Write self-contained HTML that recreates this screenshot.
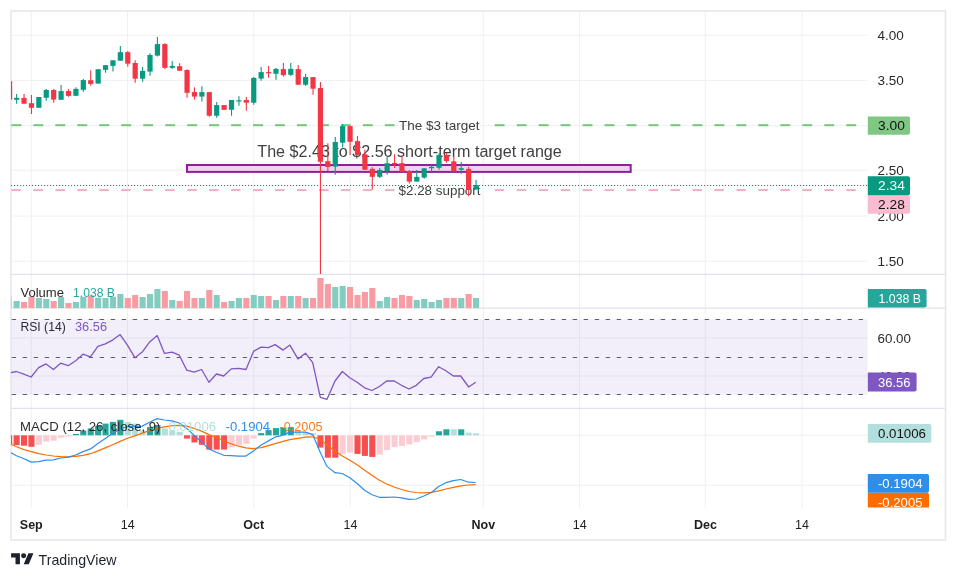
<!DOCTYPE html><html><head><meta charset="utf-8"><title>TradingView chart</title>
<style>html,body{margin:0;padding:0;background:#fff}body{width:957px;height:579px;overflow:hidden}svg{display:block;will-change:transform}text{font-family:"Liberation Sans",Arial,sans-serif}</style></head><body>
<svg width="957" height="579" viewBox="0 0 957 579">
<rect width="957" height="579" fill="#fff"/>
<rect x="11" y="319.3" width="856.5" height="75.7" fill="#f2eefa"/>
<g stroke="#eff0f3" stroke-width="1">
<line x1="31.3" y1="11" x2="31.3" y2="507.5"/>
<line x1="127.5" y1="11" x2="127.5" y2="507.5"/>
<line x1="253.7" y1="11" x2="253.7" y2="507.5"/>
<line x1="350.3" y1="11" x2="350.3" y2="507.5"/>
<line x1="483.3" y1="11" x2="483.3" y2="507.5"/>
<line x1="579.5" y1="11" x2="579.5" y2="507.5"/>
<line x1="705.3" y1="11" x2="705.3" y2="507.5"/>
<line x1="802" y1="11" x2="802" y2="507.5"/>
<line x1="11" y1="35.3" x2="867.5" y2="35.3"/>
<line x1="11" y1="80.4" x2="867.5" y2="80.4"/>
<line x1="11" y1="125.6" x2="867.5" y2="125.6"/>
<line x1="11" y1="170.3" x2="867.5" y2="170.3"/>
<line x1="11" y1="216" x2="867.5" y2="216"/>
<line x1="11" y1="261.3" x2="867.5" y2="261.3"/>
<line x1="11" y1="338" x2="867.5" y2="338"/>
<line x1="11" y1="376" x2="867.5" y2="376"/>
<line x1="11" y1="435.3" x2="867.5" y2="435.3"/>
<line x1="11" y1="485.3" x2="867.5" y2="485.3"/>
</g>
<g stroke="#e0e3eb" stroke-width="1.2">
<line x1="11" y1="274.3" x2="945.5" y2="274.3"/>
<line x1="11" y1="308.2" x2="945.5" y2="308.2"/>
<line x1="11" y1="408.3" x2="945.5" y2="408.3"/>
</g>
<rect x="11" y="11" width="934.5" height="529" fill="none" stroke="#e4e6ea" stroke-width="1.5"/>
<rect x="11.4" y="124.2" width="9.9" height="2" fill="#78c47c"/>
<rect x="33.4" y="124.2" width="9.9" height="2" fill="#78c47c"/>
<rect x="55.3" y="124.2" width="9.9" height="2" fill="#78c47c"/>
<rect x="77.3" y="124.2" width="9.9" height="2" fill="#78c47c"/>
<rect x="99.3" y="124.2" width="9.9" height="2" fill="#78c47c"/>
<rect x="121.2" y="124.2" width="9.9" height="2" fill="#78c47c"/>
<rect x="143.2" y="124.2" width="9.9" height="2" fill="#78c47c"/>
<rect x="165.2" y="124.2" width="9.9" height="2" fill="#78c47c"/>
<rect x="187.2" y="124.2" width="9.9" height="2" fill="#78c47c"/>
<rect x="209.1" y="124.2" width="9.9" height="2" fill="#78c47c"/>
<rect x="231.1" y="124.2" width="9.9" height="2" fill="#78c47c"/>
<rect x="253.1" y="124.2" width="9.9" height="2" fill="#78c47c"/>
<rect x="275.0" y="124.2" width="9.9" height="2" fill="#78c47c"/>
<rect x="297.0" y="124.2" width="9.9" height="2" fill="#78c47c"/>
<rect x="319.0" y="124.2" width="9.9" height="2" fill="#78c47c"/>
<rect x="340.9" y="124.2" width="9.9" height="2" fill="#78c47c"/>
<rect x="362.9" y="124.2" width="9.9" height="2" fill="#78c47c"/>
<rect x="384.9" y="124.2" width="9.6" height="2" fill="#78c47c"/>
<rect x="494.7" y="124.2" width="9.9" height="2" fill="#78c47c"/>
<rect x="516.7" y="124.2" width="9.9" height="2" fill="#78c47c"/>
<rect x="538.7" y="124.2" width="9.9" height="2" fill="#78c47c"/>
<rect x="560.6" y="124.2" width="9.9" height="2" fill="#78c47c"/>
<rect x="582.6" y="124.2" width="9.9" height="2" fill="#78c47c"/>
<rect x="604.6" y="124.2" width="9.9" height="2" fill="#78c47c"/>
<rect x="626.6" y="124.2" width="9.9" height="2" fill="#78c47c"/>
<rect x="648.5" y="124.2" width="9.9" height="2" fill="#78c47c"/>
<rect x="670.5" y="124.2" width="9.9" height="2" fill="#78c47c"/>
<rect x="692.5" y="124.2" width="9.9" height="2" fill="#78c47c"/>
<rect x="714.4" y="124.2" width="9.9" height="2" fill="#78c47c"/>
<rect x="736.4" y="124.2" width="9.9" height="2" fill="#78c47c"/>
<rect x="758.4" y="124.2" width="9.9" height="2" fill="#78c47c"/>
<rect x="780.3" y="124.2" width="9.9" height="2" fill="#78c47c"/>
<rect x="802.3" y="124.2" width="9.9" height="2" fill="#78c47c"/>
<rect x="824.3" y="124.2" width="9.9" height="2" fill="#78c47c"/>
<rect x="846.3" y="124.2" width="9.9" height="2" fill="#78c47c"/>
<rect x="11.4" y="189.1" width="9.5" height="2" fill="#f3adc2"/>
<rect x="33.4" y="189.1" width="9.5" height="2" fill="#f3adc2"/>
<rect x="55.3" y="189.1" width="9.5" height="2" fill="#f3adc2"/>
<rect x="77.3" y="189.1" width="9.5" height="2" fill="#f3adc2"/>
<rect x="99.3" y="189.1" width="9.5" height="2" fill="#f3adc2"/>
<rect x="121.2" y="189.1" width="9.5" height="2" fill="#f3adc2"/>
<rect x="143.2" y="189.1" width="9.5" height="2" fill="#f3adc2"/>
<rect x="165.2" y="189.1" width="9.5" height="2" fill="#f3adc2"/>
<rect x="187.2" y="189.1" width="9.5" height="2" fill="#f3adc2"/>
<rect x="209.1" y="189.1" width="9.5" height="2" fill="#f3adc2"/>
<rect x="231.1" y="189.1" width="9.5" height="2" fill="#f3adc2"/>
<rect x="253.1" y="189.1" width="9.5" height="2" fill="#f3adc2"/>
<rect x="275.0" y="189.1" width="9.5" height="2" fill="#f3adc2"/>
<rect x="297.0" y="189.1" width="9.5" height="2" fill="#f3adc2"/>
<rect x="319.0" y="189.1" width="9.5" height="2" fill="#f3adc2"/>
<rect x="340.9" y="189.1" width="9.5" height="2" fill="#f3adc2"/>
<rect x="362.9" y="189.1" width="9.5" height="2" fill="#f3adc2"/>
<rect x="384.9" y="189.1" width="9.5" height="2" fill="#f3adc2"/>
<rect x="494.7" y="189.1" width="9.5" height="2" fill="#f3adc2"/>
<rect x="516.7" y="189.1" width="9.5" height="2" fill="#f3adc2"/>
<rect x="538.7" y="189.1" width="9.5" height="2" fill="#f3adc2"/>
<rect x="560.6" y="189.1" width="9.5" height="2" fill="#f3adc2"/>
<rect x="582.6" y="189.1" width="9.5" height="2" fill="#f3adc2"/>
<rect x="604.6" y="189.1" width="9.5" height="2" fill="#f3adc2"/>
<rect x="626.6" y="189.1" width="9.5" height="2" fill="#f3adc2"/>
<rect x="648.5" y="189.1" width="9.5" height="2" fill="#f3adc2"/>
<rect x="670.5" y="189.1" width="9.5" height="2" fill="#f3adc2"/>
<rect x="692.5" y="189.1" width="9.5" height="2" fill="#f3adc2"/>
<rect x="714.4" y="189.1" width="9.5" height="2" fill="#f3adc2"/>
<rect x="736.4" y="189.1" width="9.5" height="2" fill="#f3adc2"/>
<rect x="758.4" y="189.1" width="9.5" height="2" fill="#f3adc2"/>
<rect x="780.3" y="189.1" width="9.5" height="2" fill="#f3adc2"/>
<rect x="802.3" y="189.1" width="9.5" height="2" fill="#f3adc2"/>
<rect x="824.3" y="189.1" width="9.5" height="2" fill="#f3adc2"/>
<rect x="846.3" y="189.1" width="9.5" height="2" fill="#f3adc2"/>
<rect x="187" y="165" width="443.7" height="6.9" fill="#f3d1f4" stroke="#8e209c" stroke-width="2"/>
<g fill="#404040">
<text x="399" y="130.2" font-size="13" textLength="80.5" lengthAdjust="spacingAndGlyphs">The $3 target</text>
<text x="398.5" y="194.6" font-size="13" textLength="82" lengthAdjust="spacingAndGlyphs">$2.28 support</text>
<text x="257.3" y="156.8" font-size="16" textLength="304.5" lengthAdjust="spacingAndGlyphs">The $2.43 to $2.56 short-term target range</text>
</g>
<line x1="11" y1="185.5" x2="867.5" y2="185.5" stroke="#0b8a73" stroke-width="1.2" stroke-dasharray="1.1 1.9"/>
<path d="M11 338H867.5M11 376H867.5M31.3 320V394M127.5 320V394M253.7 320V394M350.3 320V394M483.3 320V394M579.5 320V394M705.3 320V394M802 320V394" stroke="#e5e2f0" stroke-width="1"/>
<g id="candles">
<rect x="11" y="81.2" width="1.2" height="18.4" fill="#f23645"/>
<path d="M16.63 94.1V103.7" stroke="#089981" stroke-width="1.1"/><rect x="14.03" y="97.8" width="5.2" height="2.0" fill="#089981"/>
<path d="M24.04 94.1V103.7" stroke="#f23645" stroke-width="1.1"/><rect x="21.44" y="97.9" width="5.2" height="5.8" fill="#f23645"/>
<path d="M31.45 95.0V113.9" stroke="#f23645" stroke-width="1.1"/><rect x="28.85" y="103.2" width="5.2" height="4.6" fill="#f23645"/>
<path d="M38.86 97.0V107.8" stroke="#089981" stroke-width="1.1"/><rect x="36.26" y="97.0" width="5.2" height="10.8" fill="#089981"/>
<path d="M46.27 88.9V100.7" stroke="#089981" stroke-width="1.1"/><rect x="43.67" y="90.0" width="5.2" height="7.8" fill="#089981"/>
<path d="M53.68 88.9V102.7" stroke="#f23645" stroke-width="1.1"/><rect x="51.08" y="90.0" width="5.2" height="9.6" fill="#f23645"/>
<path d="M61.09 85.0V99.8" stroke="#089981" stroke-width="1.1"/><rect x="58.49" y="91.1" width="5.2" height="8.7" fill="#089981"/>
<path d="M68.50 89.1V96.8" stroke="#f23645" stroke-width="1.1"/><rect x="65.90" y="91.0" width="5.2" height="4.9" fill="#f23645"/>
<path d="M75.91 87.3V95.8" stroke="#089981" stroke-width="1.1"/><rect x="73.31" y="88.9" width="5.2" height="6.9" fill="#089981"/>
<path d="M83.32 79.1V91.7" stroke="#089981" stroke-width="1.1"/><rect x="80.72" y="80.1" width="5.2" height="9.7" fill="#089981"/>
<path d="M90.73 70.2V85.7" stroke="#f23645" stroke-width="1.1"/><rect x="88.13" y="80.2" width="5.2" height="3.7" fill="#f23645"/>
<path d="M98.14 69.2V83.6" stroke="#089981" stroke-width="1.1"/><rect x="95.54" y="69.2" width="5.2" height="14.4" fill="#089981"/>
<path d="M105.55 65.1V72.7" stroke="#089981" stroke-width="1.1"/><rect x="102.95" y="65.2" width="5.2" height="4.6" fill="#089981"/>
<path d="M112.96 60.0V71.6" stroke="#089981" stroke-width="1.1"/><rect x="110.36" y="60.3" width="5.2" height="5.6" fill="#089981"/>
<path d="M120.37 46.1V60.7" stroke="#089981" stroke-width="1.1"/><rect x="117.77" y="52.2" width="5.2" height="8.5" fill="#089981"/>
<path d="M127.78 51.1V66.8" stroke="#f23645" stroke-width="1.1"/><rect x="125.18" y="52.2" width="5.2" height="11.5" fill="#f23645"/>
<path d="M135.19 60.3V82.8" stroke="#f23645" stroke-width="1.1"/><rect x="132.59" y="63.0" width="5.2" height="15.7" fill="#f23645"/>
<path d="M142.60 67.1V81.8" stroke="#089981" stroke-width="1.1"/><rect x="140.00" y="70.9" width="5.2" height="7.8" fill="#089981"/>
<path d="M150.01 53.2V75.7" stroke="#089981" stroke-width="1.1"/><rect x="147.41" y="55.0" width="5.2" height="16.6" fill="#089981"/>
<path d="M157.42 37.1V56.6" stroke="#089981" stroke-width="1.1"/><rect x="154.82" y="44.1" width="5.2" height="11.5" fill="#089981"/>
<path d="M164.83 43.2V68.9" stroke="#f23645" stroke-width="1.1"/><rect x="162.23" y="44.1" width="5.2" height="23.7" fill="#f23645"/>
<path d="M172.24 61.1V68.9" stroke="#089981" stroke-width="1.1"/><rect x="169.64" y="65.9" width="5.2" height="1.9" fill="#089981"/>
<path d="M179.65 63.2V70.7" stroke="#f23645" stroke-width="1.1"/><rect x="177.05" y="66.2" width="5.2" height="4.5" fill="#f23645"/>
<path d="M187.06 69.2V97.8" stroke="#f23645" stroke-width="1.1"/><rect x="184.46" y="70.0" width="5.2" height="22.8" fill="#f23645"/>
<path d="M194.47 87.3V99.6" stroke="#f23645" stroke-width="1.1"/><rect x="191.87" y="92.1" width="5.2" height="4.5" fill="#f23645"/>
<path d="M201.88 86.2V101.6" stroke="#089981" stroke-width="1.1"/><rect x="199.28" y="92.1" width="5.2" height="4.5" fill="#089981"/>
<path d="M209.29 92.1V116.8" stroke="#f23645" stroke-width="1.1"/><rect x="206.69" y="92.1" width="5.2" height="23.6" fill="#f23645"/>
<path d="M216.70 102.1V117.7" stroke="#089981" stroke-width="1.1"/><rect x="214.10" y="105.1" width="5.2" height="10.6" fill="#089981"/>
<path d="M224.11 105.1V109.8" stroke="#f23645" stroke-width="1.1"/><rect x="221.51" y="105.1" width="5.2" height="4.7" fill="#f23645"/>
<path d="M231.52 100.0V115.7" stroke="#089981" stroke-width="1.1"/><rect x="228.92" y="100.0" width="5.2" height="9.8" fill="#089981"/>
<path d="M238.93 96.2V105.7" stroke="#089981" stroke-width="1.1"/><rect x="236.33" y="100.3" width="5.2" height="1.2" fill="#089981"/>
<path d="M246.34 97.0V110.7" stroke="#f23645" stroke-width="1.1"/><rect x="243.74" y="100.0" width="5.2" height="2.7" fill="#f23645"/>
<path d="M253.75 77.1V104.8" stroke="#089981" stroke-width="1.1"/><rect x="251.15" y="77.9" width="5.2" height="24.8" fill="#089981"/>
<path d="M261.16 67.0V80.7" stroke="#089981" stroke-width="1.1"/><rect x="258.56" y="72.1" width="5.2" height="6.5" fill="#089981"/>
<path d="M268.57 65.9V77.8" stroke="#f23645" stroke-width="1.1"/><rect x="265.97" y="72.1" width="5.2" height="1.2" fill="#f23645"/>
<path d="M275.98 68.0V79.8" stroke="#089981" stroke-width="1.1"/><rect x="273.38" y="68.9" width="5.2" height="4.9" fill="#089981"/>
<path d="M283.39 62.9V76.8" stroke="#f23645" stroke-width="1.1"/><rect x="280.79" y="69.1" width="5.2" height="6.0" fill="#f23645"/>
<path d="M290.80 62.9V75.9" stroke="#089981" stroke-width="1.1"/><rect x="288.20" y="68.9" width="5.2" height="5.9" fill="#089981"/>
<path d="M298.21 65.0V84.7" stroke="#f23645" stroke-width="1.1"/><rect x="295.61" y="69.1" width="5.2" height="15.6" fill="#f23645"/>
<path d="M305.62 74.1V86.0" stroke="#089981" stroke-width="1.1"/><rect x="303.02" y="77.1" width="5.2" height="7.6" fill="#089981"/>
<path d="M313.03 77.1V94.8" stroke="#f23645" stroke-width="1.1"/><rect x="310.43" y="77.1" width="5.2" height="11.6" fill="#f23645"/>
<path d="M320.44 82.0V274.0" stroke="#f23645" stroke-width="1.1"/><rect x="317.84" y="88.0" width="5.2" height="73.8" fill="#f23645"/>
<path d="M327.85 143.2V171.0" stroke="#f23645" stroke-width="1.1"/><rect x="325.25" y="161.2" width="5.2" height="5.8" fill="#f23645"/>
<path d="M335.26 137.0V174.8" stroke="#089981" stroke-width="1.1"/><rect x="332.66" y="142.0" width="5.2" height="24.6" fill="#089981"/>
<path d="M342.67 124.0V147.5" stroke="#089981" stroke-width="1.1"/><rect x="340.07" y="126.1" width="5.2" height="16.6" fill="#089981"/>
<path d="M350.08 126.1V155.0" stroke="#f23645" stroke-width="1.1"/><rect x="347.48" y="126.1" width="5.2" height="15.7" fill="#f23645"/>
<path d="M357.49 136.2V155.0" stroke="#f23645" stroke-width="1.1"/><rect x="354.89" y="141.1" width="5.2" height="13.9" fill="#f23645"/>
<path d="M364.90 149.6V169.8" stroke="#f23645" stroke-width="1.1"/><rect x="362.30" y="154.3" width="5.2" height="15.5" fill="#f23645"/>
<path d="M372.31 167.3V189.6" stroke="#f23645" stroke-width="1.1"/><rect x="369.71" y="168.9" width="5.2" height="7.9" fill="#f23645"/>
<path d="M379.72 168.0V178.0" stroke="#089981" stroke-width="1.1"/><rect x="377.12" y="170.0" width="5.2" height="6.8" fill="#089981"/>
<path d="M387.13 157.0V174.8" stroke="#089981" stroke-width="1.1"/><rect x="384.53" y="163.2" width="5.2" height="7.8" fill="#089981"/>
<path d="M394.54 154.3V168.0" stroke="#f23645" stroke-width="1.1"/><rect x="391.94" y="163.0" width="5.2" height="1.2" fill="#f23645"/>
<path d="M401.95 155.0V171.8" stroke="#f23645" stroke-width="1.1"/><rect x="399.35" y="163.2" width="5.2" height="8.5" fill="#f23645"/>
<path d="M409.36 170.0V183.5" stroke="#f23645" stroke-width="1.1"/><rect x="406.76" y="171.0" width="5.2" height="10.6" fill="#f23645"/>
<path d="M416.77 170.0V181.6" stroke="#089981" stroke-width="1.1"/><rect x="414.17" y="176.9" width="5.2" height="4.7" fill="#089981"/>
<path d="M424.18 168.0V178.7" stroke="#089981" stroke-width="1.1"/><rect x="421.58" y="168.4" width="5.2" height="9.2" fill="#089981"/>
<path d="M431.59 165.0V172.0" stroke="#089981" stroke-width="1.1"/><rect x="428.99" y="166.8" width="5.2" height="1.4" fill="#089981"/>
<path d="M439.00 153.2V169.8" stroke="#089981" stroke-width="1.1"/><rect x="436.40" y="155.0" width="5.2" height="12.8" fill="#089981"/>
<path d="M446.41 153.0V162.7" stroke="#f23645" stroke-width="1.1"/><rect x="443.81" y="155.0" width="5.2" height="6.0" fill="#f23645"/>
<path d="M453.82 156.2V172.0" stroke="#f23645" stroke-width="1.1"/><rect x="451.22" y="161.4" width="5.2" height="9.9" fill="#f23645"/>
<path d="M461.23 162.0V174.0" stroke="#089981" stroke-width="1.1"/><rect x="458.63" y="168.2" width="5.2" height="1.6" fill="#089981"/>
<path d="M468.64 166.8V196.2" stroke="#f23645" stroke-width="1.1"/><rect x="466.04" y="168.9" width="5.2" height="21.1" fill="#f23645"/>
<path d="M476.05 179.8V190.0" stroke="#089981" stroke-width="1.1"/><rect x="473.45" y="185.0" width="5.2" height="4.3" fill="#089981"/>
</g>
<g id="vol">
<rect x="11" y="296" width="1" height="12" fill="#fac0c5"/>
<rect x="13.58" y="301.0" width="6.1" height="7.0" fill="#84ccc0"/>
<rect x="20.99" y="302.0" width="6.1" height="6.0" fill="#f89ba3"/>
<rect x="28.40" y="296.8" width="6.1" height="11.2" fill="#f89ba3"/>
<rect x="35.81" y="298.0" width="6.1" height="10.0" fill="#84ccc0"/>
<rect x="43.22" y="299.0" width="6.1" height="9.0" fill="#84ccc0"/>
<rect x="50.63" y="301.0" width="6.1" height="7.0" fill="#f89ba3"/>
<rect x="58.04" y="297.0" width="6.1" height="11.0" fill="#84ccc0"/>
<rect x="65.45" y="303.0" width="6.1" height="5.0" fill="#f89ba3"/>
<rect x="72.86" y="302.0" width="6.1" height="6.0" fill="#84ccc0"/>
<rect x="80.27" y="296.8" width="6.1" height="11.2" fill="#84ccc0"/>
<rect x="87.68" y="295.4" width="6.1" height="12.6" fill="#f89ba3"/>
<rect x="95.09" y="297.6" width="6.1" height="10.4" fill="#84ccc0"/>
<rect x="102.50" y="298.0" width="6.1" height="10.0" fill="#84ccc0"/>
<rect x="109.91" y="296.8" width="6.1" height="11.2" fill="#84ccc0"/>
<rect x="117.32" y="294.0" width="6.1" height="14.0" fill="#84ccc0"/>
<rect x="124.73" y="298.0" width="6.1" height="10.0" fill="#f89ba3"/>
<rect x="132.14" y="295.0" width="6.1" height="13.0" fill="#f89ba3"/>
<rect x="139.55" y="297.0" width="6.1" height="11.0" fill="#84ccc0"/>
<rect x="146.96" y="294.0" width="6.1" height="14.0" fill="#84ccc0"/>
<rect x="154.37" y="289.0" width="6.1" height="19.0" fill="#84ccc0"/>
<rect x="161.78" y="291.0" width="6.1" height="17.0" fill="#f89ba3"/>
<rect x="169.19" y="300.0" width="6.1" height="8.0" fill="#84ccc0"/>
<rect x="176.60" y="301.0" width="6.1" height="7.0" fill="#f89ba3"/>
<rect x="184.01" y="291.0" width="6.1" height="17.0" fill="#f89ba3"/>
<rect x="191.42" y="298.0" width="6.1" height="10.0" fill="#f89ba3"/>
<rect x="198.83" y="298.0" width="6.1" height="10.0" fill="#84ccc0"/>
<rect x="206.24" y="290.0" width="6.1" height="18.0" fill="#f89ba3"/>
<rect x="213.65" y="295.0" width="6.1" height="13.0" fill="#84ccc0"/>
<rect x="221.06" y="302.0" width="6.1" height="6.0" fill="#f89ba3"/>
<rect x="228.47" y="301.0" width="6.1" height="7.0" fill="#84ccc0"/>
<rect x="235.88" y="298.0" width="6.1" height="10.0" fill="#84ccc0"/>
<rect x="243.29" y="298.0" width="6.1" height="10.0" fill="#f89ba3"/>
<rect x="250.70" y="295.0" width="6.1" height="13.0" fill="#84ccc0"/>
<rect x="258.11" y="296.0" width="6.1" height="12.0" fill="#84ccc0"/>
<rect x="265.52" y="296.0" width="6.1" height="12.0" fill="#f89ba3"/>
<rect x="272.93" y="300.0" width="6.1" height="8.0" fill="#84ccc0"/>
<rect x="280.34" y="296.0" width="6.1" height="12.0" fill="#f89ba3"/>
<rect x="287.75" y="296.0" width="6.1" height="12.0" fill="#84ccc0"/>
<rect x="295.16" y="296.0" width="6.1" height="12.0" fill="#f89ba3"/>
<rect x="302.57" y="298.0" width="6.1" height="10.0" fill="#84ccc0"/>
<rect x="309.98" y="298.0" width="6.1" height="10.0" fill="#f89ba3"/>
<rect x="317.39" y="278.0" width="6.1" height="30.0" fill="#f89ba3"/>
<rect x="324.80" y="284.0" width="6.1" height="24.0" fill="#f89ba3"/>
<rect x="332.21" y="287.0" width="6.1" height="21.0" fill="#84ccc0"/>
<rect x="339.62" y="286.0" width="6.1" height="22.0" fill="#84ccc0"/>
<rect x="347.03" y="287.0" width="6.1" height="21.0" fill="#f89ba3"/>
<rect x="354.44" y="295.0" width="6.1" height="13.0" fill="#f89ba3"/>
<rect x="361.85" y="292.0" width="6.1" height="16.0" fill="#f89ba3"/>
<rect x="369.26" y="288.0" width="6.1" height="20.0" fill="#f89ba3"/>
<rect x="376.67" y="301.0" width="6.1" height="7.0" fill="#84ccc0"/>
<rect x="384.08" y="297.0" width="6.1" height="11.0" fill="#84ccc0"/>
<rect x="391.49" y="298.0" width="6.1" height="10.0" fill="#f89ba3"/>
<rect x="398.90" y="295.0" width="6.1" height="13.0" fill="#f89ba3"/>
<rect x="406.31" y="296.0" width="6.1" height="12.0" fill="#f89ba3"/>
<rect x="413.72" y="300.0" width="6.1" height="8.0" fill="#84ccc0"/>
<rect x="421.13" y="299.0" width="6.1" height="9.0" fill="#84ccc0"/>
<rect x="428.54" y="302.0" width="6.1" height="6.0" fill="#84ccc0"/>
<rect x="435.95" y="300.0" width="6.1" height="8.0" fill="#84ccc0"/>
<rect x="443.36" y="298.0" width="6.1" height="10.0" fill="#f89ba3"/>
<rect x="450.77" y="298.0" width="6.1" height="10.0" fill="#f89ba3"/>
<rect x="458.18" y="298.0" width="6.1" height="10.0" fill="#84ccc0"/>
<rect x="465.59" y="294.0" width="6.1" height="14.0" fill="#f89ba3"/>
<rect x="473.00" y="298.0" width="6.1" height="10.0" fill="#84ccc0"/>
</g>
<g stroke="#5d606b" stroke-width="1" stroke-dasharray="4.4 6.6" fill="none">
<line x1="11.7" y1="319.5" x2="863" y2="319.5"/>
<line x1="11.7" y1="357.5" x2="863" y2="357.5"/>
<line x1="11.7" y1="394.5" x2="863" y2="394.5"/>
</g>
<polyline points="11.0,372.7 16.3,371.5 23.8,374.2 31.1,377.0 38.6,367.7 46.1,363.9 53.4,369.5 60.7,363.2 68.2,365.7 75.7,360.7 83.0,354.2 90.5,356.9 97.8,346.4 105.3,343.9 112.6,340.1 120.1,334.6 127.4,345.1 134.9,357.7 142.2,352.1 149.7,341.9 157.2,335.6 164.5,353.4 172.0,352.1 179.3,355.2 186.8,370.2 194.1,372.2 201.6,369.5 208.9,382.2 216.4,374.0 223.7,376.0 231.2,368.9 238.5,368.4 246.0,369.5 253.5,351.4 261.1,347.1 268.3,347.6 275.1,344.6 283.1,350.1 289.9,345.1 297.9,358.9 305.5,353.2 312.7,362.7 320.3,397.3 327.0,399.3 335.0,381.0 342.3,371.5 349.8,377.7 357.1,382.2 364.6,387.8 371.9,390.5 379.4,386.5 386.7,381.0 394.2,381.0 401.5,385.3 409.0,389.0 416.3,385.3 423.8,378.5 431.1,377.2 438.6,366.7 445.9,370.7 453.4,376.0 460.7,376.0 468.7,387.0 475.7,382.2" fill="none" stroke="#7e57c2" stroke-width="1.3" stroke-linejoin="round"/>
<g id="hist">
<rect x="11" y="435.3" width="1.2" height="9.5" fill="#f5504f"/>
<rect x="13.58" y="435.3" width="6.1" height="9.9" fill="#f5504f"/>
<rect x="20.99" y="435.3" width="6.1" height="10.4" fill="#f5504f"/>
<rect x="28.40" y="435.3" width="6.1" height="11.5" fill="#f5504f"/>
<rect x="35.81" y="435.3" width="6.1" height="9.5" fill="#fbcdd2"/>
<rect x="43.22" y="435.3" width="6.1" height="6.4" fill="#fbcdd2"/>
<rect x="50.63" y="435.3" width="6.1" height="5.4" fill="#fbcdd2"/>
<rect x="58.04" y="435.3" width="6.1" height="2.4" fill="#fbcdd2"/>
<rect x="65.45" y="435.3" width="6.1" height="1.3" fill="#fbcdd2"/>
<rect x="72.86" y="433.9" width="6.1" height="1.4" fill="#26a69a"/>
<rect x="80.27" y="430.5" width="6.1" height="4.8" fill="#26a69a"/>
<rect x="87.68" y="428.4" width="6.1" height="6.9" fill="#26a69a"/>
<rect x="95.09" y="425.7" width="6.1" height="9.6" fill="#26a69a"/>
<rect x="102.50" y="423.6" width="6.1" height="11.7" fill="#26a69a"/>
<rect x="109.91" y="421.9" width="6.1" height="13.4" fill="#26a69a"/>
<rect x="117.32" y="419.8" width="6.1" height="15.5" fill="#26a69a"/>
<rect x="124.73" y="421.9" width="6.1" height="13.4" fill="#b2dfdb"/>
<rect x="132.14" y="423.6" width="6.1" height="11.7" fill="#b2dfdb"/>
<rect x="139.55" y="430.5" width="6.1" height="4.8" fill="#b2dfdb"/>
<rect x="146.96" y="427.1" width="6.1" height="8.2" fill="#26a69a"/>
<rect x="154.37" y="425.0" width="6.1" height="10.3" fill="#26a69a"/>
<rect x="161.78" y="428.4" width="6.1" height="6.9" fill="#b2dfdb"/>
<rect x="169.19" y="430.5" width="6.1" height="4.8" fill="#b2dfdb"/>
<rect x="176.60" y="431.8" width="6.1" height="3.5" fill="#b2dfdb"/>
<rect x="184.01" y="435.3" width="6.1" height="3.3" fill="#f5504f"/>
<rect x="191.42" y="435.3" width="6.1" height="7.2" fill="#f5504f"/>
<rect x="198.83" y="435.3" width="6.1" height="9.5" fill="#f5504f"/>
<rect x="206.24" y="435.3" width="6.1" height="14.3" fill="#f5504f"/>
<rect x="213.65" y="435.3" width="6.1" height="14.3" fill="#f5504f"/>
<rect x="221.06" y="435.3" width="6.1" height="14.3" fill="#f5504f"/>
<rect x="228.47" y="435.3" width="6.1" height="12.2" fill="#fbcdd2"/>
<rect x="235.88" y="435.3" width="6.1" height="9.9" fill="#fbcdd2"/>
<rect x="243.29" y="435.3" width="6.1" height="8.5" fill="#fbcdd2"/>
<rect x="250.70" y="435.3" width="6.1" height="3.3" fill="#fbcdd2"/>
<rect x="258.11" y="433.1" width="6.1" height="2.2" fill="#26a69a"/>
<rect x="265.52" y="430.1" width="6.1" height="5.2" fill="#26a69a"/>
<rect x="272.93" y="428.1" width="6.1" height="7.2" fill="#26a69a"/>
<rect x="280.34" y="427.6" width="6.1" height="7.7" fill="#26a69a"/>
<rect x="287.75" y="427.1" width="6.1" height="8.2" fill="#26a69a"/>
<rect x="295.16" y="431.3" width="6.1" height="4.0" fill="#b2dfdb"/>
<rect x="302.57" y="432.1" width="6.1" height="3.2" fill="#b2dfdb"/>
<rect x="309.98" y="433.3" width="6.1" height="2.0" fill="#b2dfdb"/>
<rect x="317.39" y="435.3" width="6.1" height="12.3" fill="#f5504f"/>
<rect x="324.80" y="435.3" width="6.1" height="22.4" fill="#f5504f"/>
<rect x="332.21" y="435.3" width="6.1" height="22.4" fill="#f5504f"/>
<rect x="339.62" y="435.3" width="6.1" height="18.6" fill="#fbcdd2"/>
<rect x="347.03" y="435.3" width="6.1" height="17.3" fill="#fbcdd2"/>
<rect x="354.44" y="435.3" width="6.1" height="18.6" fill="#f5504f"/>
<rect x="361.85" y="435.3" width="6.1" height="20.6" fill="#f5504f"/>
<rect x="369.26" y="435.3" width="6.1" height="21.6" fill="#f5504f"/>
<rect x="376.67" y="435.3" width="6.1" height="19.4" fill="#fbcdd2"/>
<rect x="384.08" y="435.3" width="6.1" height="14.8" fill="#fbcdd2"/>
<rect x="391.49" y="435.3" width="6.1" height="11.8" fill="#fbcdd2"/>
<rect x="398.90" y="435.3" width="6.1" height="10.6" fill="#fbcdd2"/>
<rect x="406.31" y="435.3" width="6.1" height="9.1" fill="#fbcdd2"/>
<rect x="413.72" y="435.3" width="6.1" height="6.8" fill="#fbcdd2"/>
<rect x="421.13" y="435.3" width="6.1" height="4.1" fill="#fbcdd2"/>
<rect x="428.54" y="435.3" width="6.1" height="1.3" fill="#fbcdd2"/>
<rect x="435.95" y="431.3" width="6.1" height="4.0" fill="#26a69a"/>
<rect x="443.36" y="429.3" width="6.1" height="6.0" fill="#26a69a"/>
<rect x="450.77" y="429.3" width="6.1" height="6.0" fill="#b2dfdb"/>
<rect x="458.18" y="429.3" width="6.1" height="6.0" fill="#26a69a"/>
<rect x="465.59" y="432.6" width="6.1" height="2.7" fill="#b2dfdb"/>
<rect x="473.00" y="433.3" width="6.1" height="2.0" fill="#b2dfdb"/>
</g>
<polyline points="11.0,444.2 16.5,446.8 24.0,449.6 31.3,451.6 38.7,453.7 46.1,455.0 53.4,456.0 60.9,456.7 68.3,456.8 75.7,456.4 83.0,455.3 90.5,453.7 97.9,450.9 105.3,447.9 112.6,444.8 120.1,441.4 127.5,438.2 134.9,435.9 149.7,430.5 157.1,428.4 164.4,426.8 171.9,425.7 179.3,425.3 186.7,426.1 194.0,428.4 201.5,431.1 208.9,434.6 216.3,437.3 223.8,440.7 231.1,443.8 238.5,446.2 245.9,447.9 253.2,448.6 261.1,447.6 268.3,445.6 275.9,443.4 283.1,441.4 289.9,439.6 297.9,438.4 305.5,437.1 312.7,436.8 320.3,439.4 327.0,445.1 335.0,450.9 342.3,455.9 349.8,460.2 357.1,464.7 364.6,470.2 371.9,475.2 379.4,480.2 386.7,484.0 394.2,487.0 401.5,489.5 409.0,491.5 416.3,492.5 423.8,492.8 431.1,492.3 438.6,490.8 445.9,489.0 453.4,487.3 460.7,485.8 468.7,485.0 475.7,484.7" fill="none" stroke="#ff6d00" stroke-width="1.2" stroke-linejoin="round"/>
<polyline points="11.0,452.7 16.5,455.7 24.0,458.8 31.3,462.1 38.7,461.6 46.1,460.1 53.4,459.8 60.9,458.0 68.3,457.1 75.7,455.0 83.0,451.6 90.5,448.9 97.9,443.4 105.3,438.6 112.6,433.2 120.1,429.1 127.5,426.4 134.8,426.4 142.2,426.1 149.7,422.3 157.1,418.6 164.4,420.0 171.9,420.9 179.3,423.0 186.7,428.4 194.0,435.2 201.5,442.1 208.9,448.9 216.3,452.3 223.8,455.3 231.1,455.7 238.5,456.1 245.9,456.1 253.5,450.9 261.1,445.1 268.3,440.9 275.9,436.8 283.1,435.1 289.9,432.1 297.9,432.1 305.5,432.1 312.7,434.6 320.3,452.6 327.0,466.4 335.0,472.7 342.3,473.5 349.8,477.7 357.1,483.5 364.6,490.3 371.9,494.8 379.4,497.3 386.7,497.3 394.2,497.0 401.5,497.8 409.0,499.3 416.3,499.0 423.8,496.0 431.1,492.8 438.6,486.5 445.9,482.7 453.4,480.7 460.7,479.5 468.7,482.2 475.7,482.5" fill="none" stroke="#2f8fe8" stroke-width="1.2" stroke-linejoin="round"/>
<g font-size="13">
<text x="20.5" y="296.8" fill="#2a2a2a" textLength="43.5" lengthAdjust="spacingAndGlyphs">Volume</text>
<text x="73" y="296.8" fill="#26a69a" textLength="42" lengthAdjust="spacingAndGlyphs">1.038 B</text>
<text x="20.5" y="330.8" fill="#2a2a2a" textLength="45.2" lengthAdjust="spacingAndGlyphs">RSI (14)</text>
<text x="75" y="330.8" fill="#7e57c2" textLength="32" lengthAdjust="spacingAndGlyphs">36.56</text>
<text x="20" y="430.8" fill="#2a2a2a" textLength="140.5" lengthAdjust="spacingAndGlyphs">MACD (12, 26, close, 9)</text>
<text x="168.5" y="430.8" fill="#b2dfdb" textLength="47.5" lengthAdjust="spacingAndGlyphs">0.01006</text>
<text x="225.6" y="430.8" fill="#2f8fe8" textLength="44.4" lengthAdjust="spacingAndGlyphs">-0.1904</text>
<text x="279.5" y="430.8" fill="#f57c1f" textLength="43" lengthAdjust="spacingAndGlyphs">-0.2005</text>
</g>
<g font-size="13" fill="#2a2a2a">
<text x="877.5" y="40.0" textLength="26.3" lengthAdjust="spacingAndGlyphs">4.00</text>
<text x="877.5" y="85.1" textLength="26.3" lengthAdjust="spacingAndGlyphs">3.50</text>
<text x="877.5" y="175.0" textLength="26.3" lengthAdjust="spacingAndGlyphs">2.50</text>
<text x="877.5" y="220.7" textLength="26.3" lengthAdjust="spacingAndGlyphs">2.00</text>
<text x="877.5" y="266.0" textLength="26.3" lengthAdjust="spacingAndGlyphs">1.50</text>
<text x="877.5" y="342.7" textLength="33.5" lengthAdjust="spacingAndGlyphs">60.00</text>
<text x="877.5" y="380.7" textLength="33.5" lengthAdjust="spacingAndGlyphs">40.00</text>
</g>
<path d="M867.8 116.4H908.0Q910.0 116.4 910.0 118.4V132.70000000000002Q910.0 134.70000000000002 908.0 134.70000000000002H867.8Z" fill="#80c783"/>
<text x="878" y="130.2" font-size="13" fill="#111" textLength="26.8" lengthAdjust="spacingAndGlyphs">3.00</text>
<path d="M867.8 195.2H908.0Q910.0 195.2 910.0 197.2V211.79999999999998Q910.0 213.79999999999998 908.0 213.79999999999998H867.8Z" fill="#f8bbd0"/>
<text x="878" y="209.2" font-size="13" fill="#111" textLength="26.8" lengthAdjust="spacingAndGlyphs">2.28</text>
<path d="M867.8 176.2H908.0Q910.0 176.2 910.0 178.2V193.2Q910.0 195.2 908.0 195.2H867.8Z" fill="#089981"/>
<text x="878" y="190.4" font-size="13" fill="#fff" textLength="26.8" lengthAdjust="spacingAndGlyphs">2.34</text>
<path d="M867.8 289H924.5999999999999Q926.5999999999999 289 926.5999999999999 291V305.6Q926.5999999999999 307.6 924.5999999999999 307.6H867.8Z" fill="#26a69a"/>
<text x="878.5" y="303.0" font-size="13" fill="#fff" textLength="42.5" lengthAdjust="spacingAndGlyphs">1.038 B</text>
<path d="M867.8 372.5H914.5999999999999Q916.5999999999999 372.5 916.5999999999999 374.5V389.5Q916.5999999999999 391.5 914.5999999999999 391.5H867.8Z" fill="#7e57c2"/>
<text x="878" y="386.7" font-size="13" fill="#fff" textLength="32.5" lengthAdjust="spacingAndGlyphs">36.56</text>
<path d="M867.8 424H929.3Q931.3 424 931.3 426V440.7Q931.3 442.7 929.3 442.7H867.8Z" fill="#b2dfdb"/>
<text x="878" y="438.1" font-size="13" fill="#111" textLength="48" lengthAdjust="spacingAndGlyphs">0.01006</text>
<clipPath id="cp"><rect x="860" y="400" width="90" height="107.6"/></clipPath><g clip-path="url(#cp)">
<path d="M867.8 492.8H927.0Q929.0 492.8 929.0 494.8V509.6Q929.0 511.6 927.0 511.6H867.8Z" fill="#ff6d00"/>
<text x="878" y="506.9" font-size="13" fill="#fff" textLength="44.5" lengthAdjust="spacingAndGlyphs">-0.2005</text>
</g>
<path d="M867.8 474H927.0Q929.0 474 929.0 476V490.8Q929.0 492.8 927.0 492.8H867.8Z" fill="#2f8fe8"/>
<text x="878" y="488.1" font-size="13" fill="#fff" textLength="44.5" lengthAdjust="spacingAndGlyphs">-0.1904</text>
<g font-size="12.5" fill="#1e1e1e" text-anchor="middle">
<text x="31.3" y="528.9" font-weight="bold">Sep</text>
<text x="127.8" y="528.9">14</text>
<text x="253.7" y="528.9" font-weight="bold">Oct</text>
<text x="350.5" y="528.9">14</text>
<text x="483.3" y="528.9" font-weight="bold">Nov</text>
<text x="579.7" y="528.9">14</text>
<text x="705.5" y="528.9" font-weight="bold">Dec</text>
<text x="802" y="528.9">14</text>
</g>
<g transform="translate(11.1 550.9) scale(0.63 0.61)" fill="#1e222d"><path d="M14 22H7V11H0V4h14v18z"/><circle cx="20" cy="8" r="4"/><path d="M28 22h-8l7.5-18h8L28 22z"/></g>
<text x="38.6" y="564.6" font-size="14.2" fill="#1e222d" textLength="78" lengthAdjust="spacingAndGlyphs">TradingView</text>
</svg></body></html>
